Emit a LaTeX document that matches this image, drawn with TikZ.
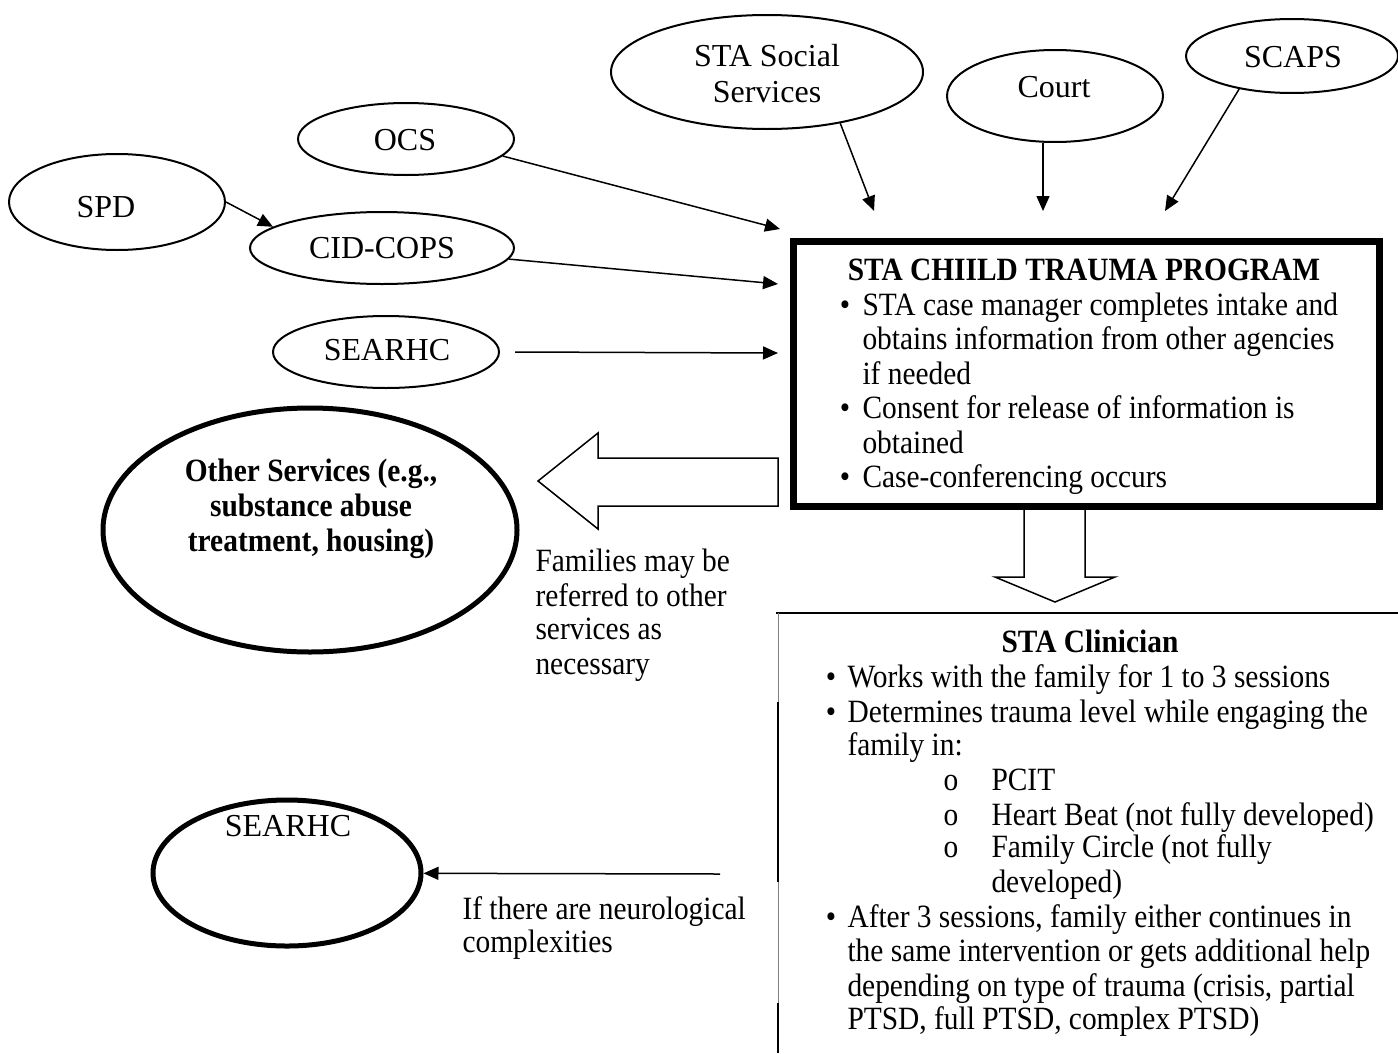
\documentclass[tikz,border=0pt]{standalone}
\usepackage{fontspec}
\setmainfont{Liberation Serif}[FakeStretch=0.905]
\newfontfamily\lblfont{Liberation Serif}
\usetikzlibrary{shapes.geometric,arrows.meta}
\newdimen\pxu \pxu=0.4pt
\begin{document}
\begin{tikzpicture}[x=0.4pt,y=-0.4pt,
  font=\fontsize{13}{13.8}\selectfont,
  ell/.style={ellipse, draw, line width=0.8pt, inner sep=0pt},
  thickell/.style={ellipse, draw, line width=2pt, inner sep=0pt},
  lbl/.style={inner sep=0pt, anchor=center, align=center, font=\lblfont\fontsize{12.8}{14.4}\selectfont},
  ln/.style={inner sep=0pt, anchor=base west},
  bul/.style={inner sep=0pt, anchor=base},
  conn/.style={line width=0.6pt, -{Triangle[length=6pt,width=5.2pt]}},
  hollow/.style={line width=0.6pt, fill=white, line join=miter}
]
\useasboundingbox (0,0) rectangle (1398,1053);
\fill[white] (0,0) rectangle (1398,1053);

% ---- source ellipses ----
\node[ell, minimum width=216\pxu, minimum height=96\pxu] (spd) at (117,202) {};
\node[lbl] (spdT) at (106,207) {SPD};
\node[ell, minimum width=216\pxu, minimum height=72\pxu] (ocs) at (406,139) {};
\node[lbl] (ocsT) at (405,140) {OCS};
\node[ell, minimum width=264\pxu, minimum height=72\pxu] (cid) at (382,248) {};
\node[lbl] (cidT) at (382,248) {CID-COPS};
\node[ell, minimum width=226\pxu, minimum height=72\pxu] (sea1) at (386,352) {};
\node[lbl] (sea1T) at (387,350) {SEARHC};
\node[ell, minimum width=312\pxu, minimum height=114\pxu] (sss) at (767,72) {};
\node[lbl] (sssT) at (767,74) {STA Social\\Services};
\node[ell, minimum width=216\pxu, minimum height=92\pxu] (court) at (1055,96) {};
\node[lbl] (courtT) at (1054,87) {Court};
\node[ell, minimum width=212\pxu, minimum height=74\pxu] (scaps) at (1292,56) {};
\node[lbl] (scapsT) at (1293,57) {SCAPS};

% ---- main program box ----
\node[draw, line width=2.8pt, minimum width=586\pxu, minimum height=265\pxu, inner sep=0pt] (main) at (1086,373.5) {};

% ---- arrow targets ----
\coordinate (tOcs) at (780,229);
\coordinate (tCid) at (778,284);
\coordinate (tSea) at (778,353);
\coordinate (tSss) at (874,211);
\coordinate (tCourt) at (1043,211);
\coordinate (tScaps) at (1165,211);

\draw[conn] (spd.east) -- (cid.169);
\draw[conn] (ocs.-10) -- (tOcs);
\draw[conn] (cid.-5) -- (tCid);
\draw[conn] ([xshift=15\pxu]sea1.east) -- (tSea);
\draw[conn] (sss.-35) -- (tSss);
\draw[conn] (tCourt |- court.south) -- (tCourt);
\draw[conn] (scaps.-148) -- (tScaps);

% ---- main box text ----
\node[bul, font=\fontsize{13}{13.8}\selectfont\bfseries] (mTitle) at (1084,280) {STA CHIILD TRAUMA PROGRAM};
\node[bul] (mb1) at (845,315) {•};
\node[ln] (m1) at (862,315) {STA case manager completes intake and};
\node[ln] (m2) at (862,349.5) {obtains information from other agencies};
\node[ln] (m3) at (862,384) {if needed};
\node[bul] (mb2) at (845,418.5) {•};
\node[ln] (m4) at (862,418.5) {Consent for release of information is};
\node[ln] (m5) at (862,453) {obtained};
\node[bul] (mb3) at (845,487.5) {•};
\node[ln] (m6) at (862,487.5) {Case-conferencing occurs};

% ---- hollow block arrows ----
\draw[hollow] (778,458) -- (598,458) -- (598,433) -- (538,481) -- (598,529) -- (598,506) -- (778,506) -- cycle;
\draw[hollow] (1024,510) -- (1024,577) -- (995,577) -- (1055,602) -- (1115,577) -- (1085,577) -- (1085,510);

% ---- other services ----
\node[thickell, minimum width=414\pxu, minimum height=244\pxu] (other) at (310,530) {};
\node[inner sep=0pt, align=center, font=\fontsize{13}{13.9}\selectfont\bfseries] (otherT) at (311,509) {Other Services (e.g.,\\substance abuse\\treatment, housing)};

\node[ln] (f1) at (535,571) {Families may be};
\node[ln] (f2) at (535,606) {referred to other};
\node[ln] (f3) at (535,639) {services as};
\node[ln] (f4) at (535,674) {necessary};

% ---- clinician box (open frame) ----
\coordinate (cTL) at (778,613);
\coordinate (cTR) at (1398,613);
\draw[line width=0.8pt] (776,613) -- (cTR);
\draw[line width=0.4pt, black!50] (cTL) -- (778,1053);
\draw[line width=0.8pt] (778,702) -- (778,882);
\draw[line width=0.8pt] (778,1003) -- (778,1053);

\node[bul, font=\fontsize{13}{13.8}\selectfont\bfseries] (cTitle) at (1090,652) {STA Clinician};
\node[bul] (cb1) at (831,687) {•};
\node[ln] (c1) at (847,687) {Works with the family for 1 to 3 sessions};
\node[bul] (cb2) at (831,722) {•};
\node[ln] (c2) at (847,722) {Determines trauma level while engaging the};
\node[ln] (c3) at (847,755) {family in:};
\node[bul] (co1) at (951,790) {o};
\node[ln] (c4) at (991,790) {PCIT};
\node[bul] (co2) at (951,825) {o};
\node[ln] (c5) at (991,825) {Heart Beat (not fully developed)};
\node[bul] (co3) at (951,857) {o};
\node[ln] (c6) at (991,857) {Family Circle (not fully};
\node[ln] (c7) at (991,892) {developed)};
\node[bul] (cb3) at (831,927) {•};
\node[ln] (c8) at (847,927) {After 3 sessions, family either continues in};
\node[ln] (c9) at (847,961) {the same intervention or gets additional help};
\node[ln] (c10) at (847,996) {depending on type of trauma (crisis, partial};
\node[ln] (c11) at (847,1029) {PTSD, full PTSD, complex PTSD)};

% ---- bottom SEARHC ----
\node[thickell, minimum width=268\pxu, minimum height=146\pxu] (sea2) at (287,873) {};
\node[lbl] (sea2T) at (288,826) {SEARHC};
\coordinate (nStart) at (720,874);
\draw[conn] (nStart) -- (sea2);
\node[ln] (n1) at (462,919) {If there are neurological};
\node[ln] (n2) at (462,952) {complexities};
\end{tikzpicture}
\end{document}
